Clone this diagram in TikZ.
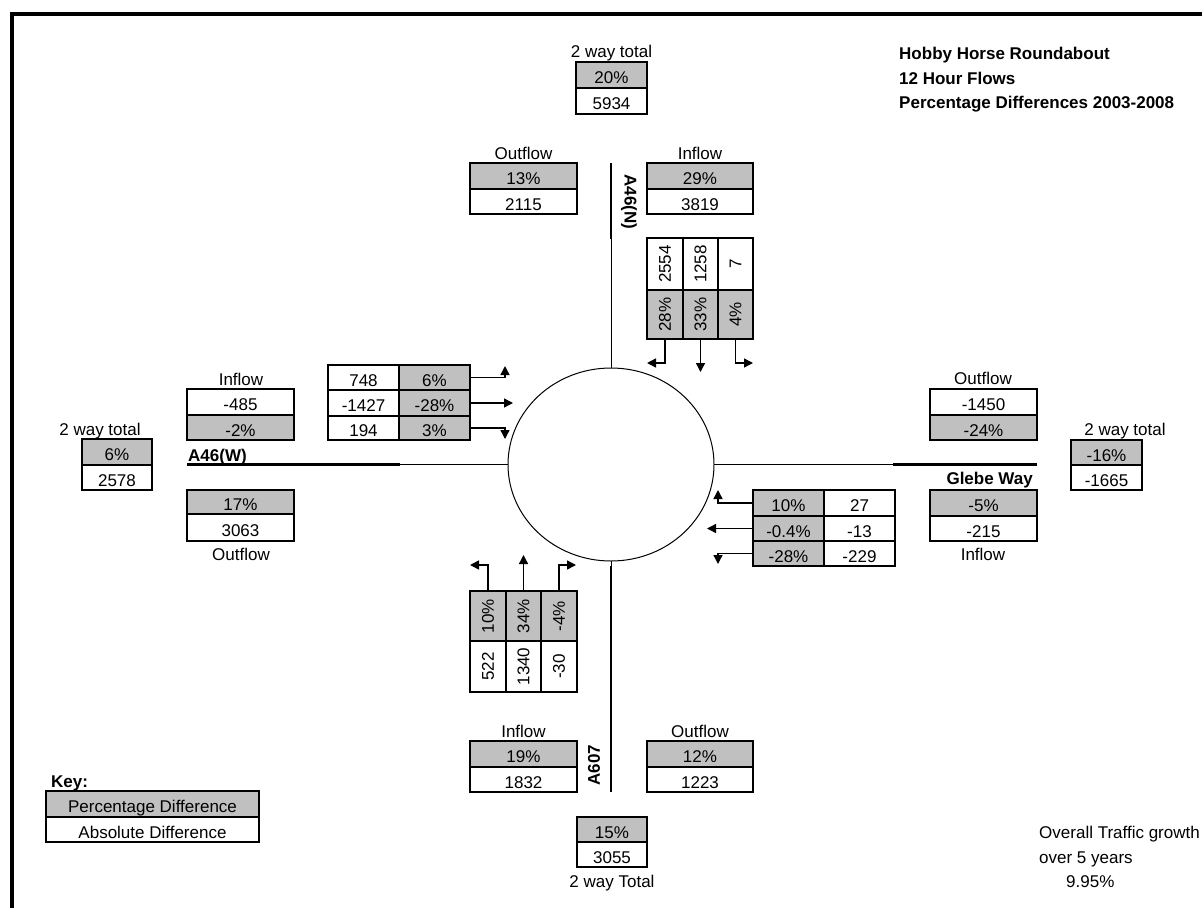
\documentclass[tikz,border=0pt]{standalone}
\usepackage{fontspec}
\setmainfont{Liberation Sans}
\usetikzlibrary{arrows.meta,shapes.geometric}
\definecolor{cellgrey}{RGB}{192,192,192}
\newcommand\cellbox[7]{\node[#1, minimum width={(#5-#3)*1pt}, minimum height={(#6-#4)*1pt}] (#2) at (#3,#4) {#7};}
\newcommand\rt[1]{\rotatebox{90}{#1}}
\begin{document}
\begin{tikzpicture}[x=1pt,y=-1pt,
  txt/.style={font=\fontsize{17}{20}\selectfont},
  cellbase/.style={txt, draw=black, line width=2pt, inner sep=0pt, outer sep=0pt, anchor=north west},
  gc/.style={cellbase, fill=cellgrey, text height=17pt, text depth=0pt},
  wc/.style={cellbase, fill=white, text height=17pt, text depth=0pt},
  gr/.style={cellbase, fill=cellgrey},
  wr/.style={cellbase, fill=white},
  lbl/.style={txt, inner sep=0pt, anchor=base},
  blbl/.style={inner sep=0pt, font=\fontsize{17}{20}\selectfont\bfseries},
  arr/.style={line width=1.4pt, -{Triangle[length=9pt,width=9pt]}},
  road/.style={line width=2.2pt},
  thinroad/.style={line width=0.9pt},
]
\useasboundingbox (0,0) rectangle (1202,908);
% frame
\coordinate (fTR) at (1202,14);
\coordinate (fTL) at (12,14);
\coordinate (fBL) at (12,908);
\draw[line width=4pt] (fTR) -- (fTL) -- (fBL);

% roundabout
\node[draw, ellipse, line width=1pt, outer sep=0pt, minimum width=206pt, minimum height=193pt, inner sep=0pt] (rb) at (611,464.5) {};

% title
\node[blbl, anchor=base west] (t1) at (899,59) {Hobby Horse Roundabout};
\node[blbl, anchor=base west] (t2) at (899,84) {12 Hour Flows};
\node[blbl, anchor=base west] (t3) at (899,108) {Percentage Differences 2003-2008};

% north total
\node[lbl] (ntl) at (611.5,57) {2 way total};
\cellbox{gc}{ntt1}{576}{62}{647}{88}{20\%}
\cellbox{wc}{ntt2}{576}{88}{647}{114}{5934}

% north outflow / inflow
\node[lbl] (nol) at (523.5,159) {Outflow};
\cellbox{gc}{nout1}{470}{163}{577}{189}{13\%}
\cellbox{wc}{nout2}{470}{189}{577}{214}{2115}
\node[lbl] (nil) at (700,159) {Inflow};
\cellbox{gc}{nin1}{647}{163}{753}{189}{29\%}
\cellbox{wc}{nin2}{647}{189}{753}{214}{3819}

% north road
\coordinate (nA) at (611,163);
\coordinate (nB) at (611,239);
\draw[road] (nA) -- (nB);
\draw[thinroad] (nB) -- (rb.north);
\node[blbl, rotate=-90] (nname) at (629,202) {A46(N)};

% north turning table
\cellbox{wr}{nt1}{647}{238}{683}{290}{\rt{2554}}
\cellbox{wr}{nt2}{683}{238}{718}{290}{\rt{1258}}
\cellbox{wr}{nt3}{718}{238}{753}{290}{\rt{7}}
\cellbox{gr}{nt4}{647}{290}{683}{339}{\rt{28\%}}
\cellbox{gr}{nt5}{683}{290}{718}{339}{\rt{33\%}}
\cellbox{gr}{nt6}{718}{290}{753}{339}{\rt{4\%}}
\coordinate (ntL) at (647,363);
\coordinate (ntD) at (700.5,372);
\coordinate (ntR) at (753,363);
\draw[arr] (nt4.south) |- (ntL);
\draw[arr] (nt5.south) -- (ntD);
\draw[arr] (nt6.south) |- (ntR);

% west
\node[lbl] (wtl) at (100,435) {2 way total};
\cellbox{gc}{wtt1}{82}{439}{152}{465}{6\%}
\cellbox{wc}{wtt2}{82}{465}{152}{490}{2578}
\node[lbl] (wil) at (241,385) {Inflow};
\cellbox{wc}{win1}{187}{389}{294}{415}{-485}
\cellbox{gc}{win2}{187}{415}{294}{440}{-2\%}
\node[blbl, anchor=base west] (wname) at (188,461) {A46(W)};
\coordinate (wA) at (187,464.5);
\coordinate (wB) at (400,464.5);
\draw[road] (wA) -- (wB);
\draw[thinroad] (wB) -- (rb.west);
\cellbox{gc}{wout1}{187}{490}{294}{514}{17\%}
\cellbox{wc}{wout2}{187}{514}{294}{541}{3063}
\node[lbl] (wol) at (241,560) {Outflow};

% west turning table
\cellbox{wc}{wt1}{328}{365}{399}{390}{748}
\cellbox{gc}{wt2}{399}{365}{470}{390}{6\%}
\cellbox{wc}{wt3}{328}{390}{399}{416}{-1427}
\cellbox{gc}{wt4}{399}{390}{470}{416}{-28\%}
\cellbox{wc}{wt5}{328}{416}{399}{440}{194}
\cellbox{gc}{wt6}{399}{416}{470}{440}{3\%}
\coordinate (wU) at (505,366);
\coordinate (wR) at (513,403);
\coordinate (wD) at (505,439);
\draw[arr] (wt2.east) -| (wU);
\draw[arr] (wt4.east) -- (wR);
\draw[arr] (wt6.east) -| (wD);

% east
\node[lbl] (eol) at (983,384) {Outflow};
\cellbox{wc}{eout1}{930}{389}{1037}{415}{-1450}
\cellbox{gc}{eout2}{930}{415}{1037}{440}{-24\%}
\node[lbl] (etl) at (1125,435) {2 way total};
\cellbox{gc}{ett1}{1071}{440}{1142}{465}{-16\%}
\cellbox{wc}{ett2}{1071}{465}{1142}{490}{-1665}
\coordinate (eA) at (1037,464.5);
\coordinate (eB) at (893,464.5);
\draw[road] (eA) -- (eB);
\draw[thinroad] (eB) -- (rb.east);
\node[blbl, anchor=base east] (ename) at (1033,484) {Glebe Way};
\cellbox{gc}{ein1}{930}{490}{1037}{516}{-5\%}
\cellbox{wc}{ein2}{930}{516}{1037}{541}{-215}
\node[lbl] (eil) at (983,560) {Inflow};

% east turning table
\cellbox{gc}{et1}{753}{490}{824}{516}{10\%}
\cellbox{wc}{et2}{824}{490}{895}{516}{27}
\cellbox{gc}{et3}{753}{516}{824}{541}{-0.4\%}
\cellbox{wc}{et4}{824}{516}{895}{541}{-13}
\cellbox{gc}{et5}{753}{541}{824}{566}{-28\%}
\cellbox{wc}{et6}{824}{541}{895}{566}{-229}
\coordinate (eU) at (718,490);
\coordinate (eL) at (707,528.5);
\coordinate (eD) at (718,564);
\draw[arr] (et1.west) -| (eU);
\draw[arr] (et3.west) -- (eL);
\draw[arr] (et5.west) -| (eD);

% south turning table
\cellbox{gr}{st1}{470}{591}{506}{641}{\rt{10\%}}
\cellbox{gr}{st2}{506}{591}{541}{641}{\rt{34\%}}
\cellbox{gr}{st3}{541}{591}{577}{641}{\rt{-4\%}}
\cellbox{wr}{st4}{470}{641}{506}{692}{\rt{522}}
\cellbox{wr}{st5}{506}{641}{541}{692}{\rt{1340}}
\cellbox{wr}{st6}{541}{641}{577}{692}{\rt{-30}}
\coordinate (sL) at (470,565);
\coordinate (sU) at (523.5,555);
\coordinate (sR) at (576,565);
\draw[arr] (st1.north) |- (sL);
\draw[arr] (st2.north) -- (sU);
\draw[arr] (st3.north) |- (sR);

% south road
\coordinate (sB) at (611,566);
\coordinate (sA) at (611,792);
\draw[thinroad] (rb.south) -- (sB);
\draw[road] (sB) -- (sA);
\node[blbl, rotate=90] (sname) at (594,765) {A607};

% south inflow / outflow
\node[lbl] (sil) at (523.5,737) {Inflow};
\cellbox{gc}{sin1}{470}{741}{577}{767}{19\%}
\cellbox{wc}{sin2}{470}{767}{577}{792}{1832}
\node[lbl] (sol) at (700,737) {Outflow};
\cellbox{gc}{sout1}{647}{741}{753}{767}{12\%}
\cellbox{wc}{sout2}{647}{767}{753}{792}{1223}

% south total
\cellbox{gc}{stt1}{577}{817}{647}{842}{15\%}
\cellbox{wc}{stt2}{577}{842}{647}{867}{3055}
\node[lbl] (stl) at (612,887) {2 way Total};

% key
\node[blbl, anchor=base west] (key) at (51,787) {Key:};
\cellbox{gc}{k1}{46}{791}{259}{817}{Percentage Difference}
\cellbox{wc}{k2}{46}{817}{259}{842}{Absolute Difference}

% overall growth
\node[txt, inner sep=0pt, anchor=base west] (og1) at (1039,838) {Overall Traffic growth};
\node[txt, inner sep=0pt, anchor=base west] (og2) at (1039,863) {over 5 years};
\node[txt, inner sep=0pt, anchor=base west] (og3) at (1066,887) {9.95\%};
\end{tikzpicture}
\end{document}
